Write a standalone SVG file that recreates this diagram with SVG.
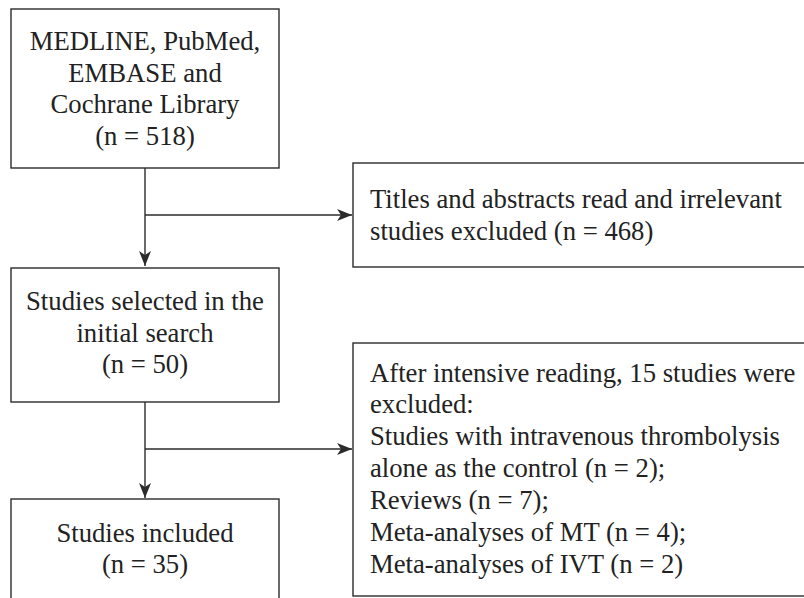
<svg xmlns="http://www.w3.org/2000/svg" width="804" height="598" viewBox="0 0 804 598">
<defs>
<style>
.box{fill:#fff;stroke:#2b2b2b;stroke-width:1.4}
.t{font-family:'Liberation Serif','Times New Roman',serif;font-size:26.7px;fill:#222}
.c{text-anchor:middle}
.ln{stroke:#2b2b2b;stroke-width:1.4;fill:none}
</style>
<marker id="arr" markerUnits="userSpaceOnUse" markerWidth="16" markerHeight="12" viewBox="0 0 16 12" refX="15" refY="6" orient="auto">
<path d="M0,0 L15,6 L0,12 L4,6 Z" fill="#2b2b2b"/>
</marker>
</defs>
<rect width="804" height="598" fill="#fff"/>
<g id="connectors">
<line class="ln" x1="145" y1="168" x2="145" y2="266" marker-end="url(#arr)"/>
<line class="ln" x1="145" y1="215" x2="352" y2="215" marker-end="url(#arr)"/>
<line class="ln" x1="145" y1="402" x2="145" y2="498" marker-end="url(#arr)"/>
<line class="ln" x1="145" y1="449" x2="352" y2="449" marker-end="url(#arr)"/>
</g>
<g id="n1">
<rect class="box" x="11" y="9" width="268" height="159"/>
<text class="t c" x="145" y="50">MEDLINE, PubMed,</text>
<text class="t c" x="145" y="82">EMBASE and</text>
<text class="t c" x="145" y="113">Cochrane Library</text>
<text class="t c" x="145" y="145">(n = 518)</text>
</g>
<g id="n2">
<rect class="box" x="353" y="163" width="470" height="104"/>
<text class="t" x="370" y="208">Titles and abstracts read and irrelevant</text>
<text class="t" x="370" y="240">studies excluded (n = 468)</text>
</g>
<g id="n3">
<rect class="box" x="11" y="268" width="268" height="134"/>
<text class="t c" x="145" y="310">Studies selected in the</text>
<text class="t c" x="145" y="342">initial search</text>
<text class="t c" x="145" y="373">(n = 50)</text>
</g>
<g id="n4">
<rect class="box" x="353" y="343" width="470" height="253"/>
<text class="t" x="370" y="382">After intensive reading, 15 studies were</text>
<text class="t" x="370" y="413">excluded:</text>
<text class="t" x="370" y="445">Studies with intravenous thrombolysis</text>
<text class="t" x="370" y="477">alone as the control (n = 2);</text>
<text class="t" x="370" y="509">Reviews (n = 7);</text>
<text class="t" x="370" y="541">Meta-analyses of MT (n = 4);</text>
<text class="t" x="370" y="573">Meta-analyses of IVT (n = 2)</text>
</g>
<g id="n5">
<rect class="box" x="11" y="499" width="268" height="110"/>
<text class="t c" x="145" y="542">Studies included</text>
<text class="t c" x="145" y="573">(n = 35)</text>
</g>
</svg>
